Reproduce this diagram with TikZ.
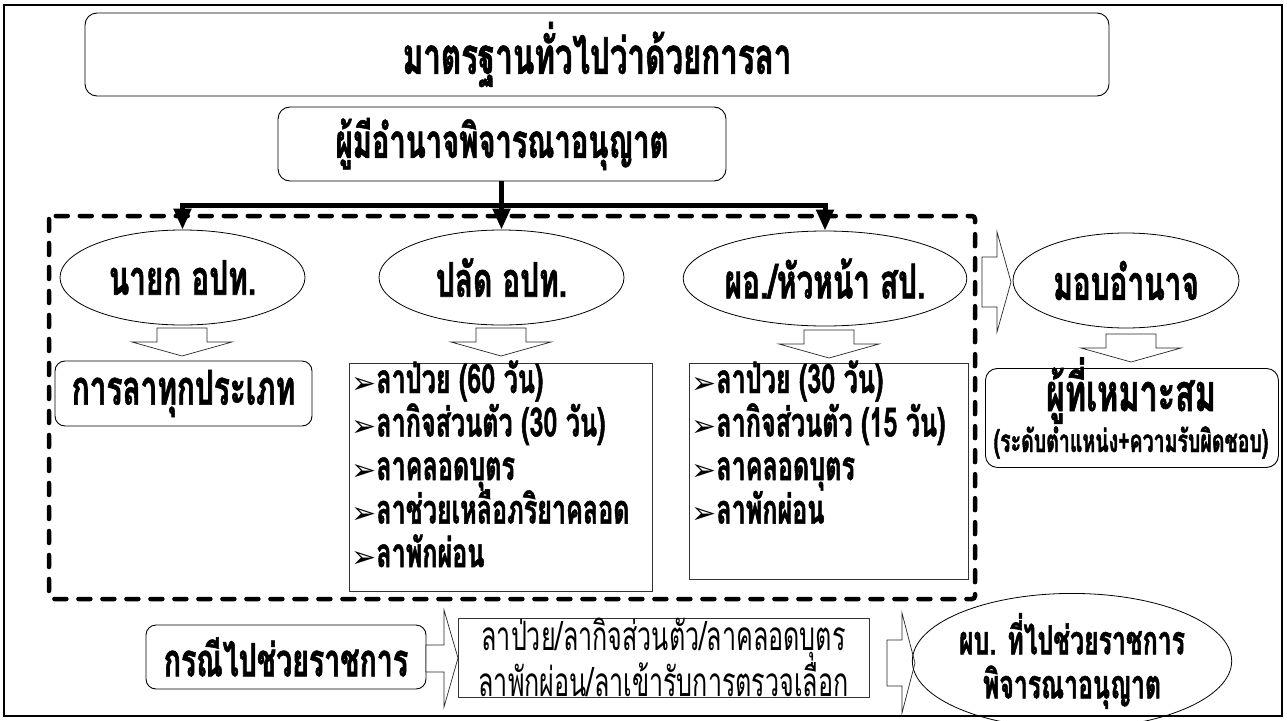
\documentclass[tikz,border=0pt]{standalone}
\usepackage{fontspec}
\newfontfamily\thai[Script=Thai,FakeStretch=0.62,BoldFeatures={FakeBold=1.2}]{Loma}
\newfontfamily\dejavu{DejaVu Sans}
\usetikzlibrary{shapes.geometric,arrows.meta,calc}
\newcommand\thaisize[1]{\thai\fontsize{#1}{#1}\selectfont}
\begin{document}
\begin{tikzpicture}[x=1pt,y=-1pt,
  rbox/.style={draw=black,line width=0.9pt,rounded corners=12pt,inner sep=0pt},
  sqbox/.style={draw=black!80,line width=0.9pt,inner sep=0pt},
  oval/.style={ellipse,draw=black,line width=0.8pt,inner sep=0pt,minimum width=245pt,minimum height=95pt,font=\thaisize{48}\bfseries},
  conn/.style={line width=5pt,-{Triangle[width=17pt,length=21pt]}},
  dashframe/.style={line width=4.5pt,dash pattern=on 12pt off 12pt,line cap=round,rounded corners=3pt},
  blockarr/.style={draw=black!85,line width=0.7pt,fill=white,line join=miter},
  item/.style={inner sep=0pt,anchor=base west,font=\thaisize{40.5}\bfseries},
  downarr/.pic={\draw[blockarr] (-25,0) -- (25,0) -- (25,14) -- (50,14) -- (0,28) -- (-50,14) -- (-25,14) -- cycle;}
]
\useasboundingbox (0,0) rectangle (1287,720);
\draw[line width=2.5pt] (4,5) rectangle (1282,716);

% title and authority
\node[rbox,minimum width=1024pt,minimum height=83pt,font=\thaisize{50.5}\bfseries] (title) at (597,54.5) {มาตรฐานทั่วไปว่าด้วยการลา};
\node[rbox,minimum width=448pt,minimum height=74pt,font=\thaisize{47}\bfseries] (box2) at (502,144) {ผู้มีอำนาจพิจารณาอนุญาต};

% dashed frame
\draw[dashframe] (49,216) rectangle (975,599);

% ellipses
\node[oval] (nayok) at (182.5,277.5) {นายก อปท.};
\node[oval] (palad) at (501.5,277.5) {ปลัด อปท.};
\node[oval] (ohor) at (825,278.5) {ผอ./หัวหน้า สป.};
\node[oval,minimum width=226pt] (mob) at (1126,280.5) {มอบอำนาจ};

% thick connectors
\coordinate (j) at (501.5,205.5);
\draw[line width=5pt] (box2.south -| j) -- (j);
\draw[conn] (j) -| (nayok.north);
\draw[conn] (j) -- (palad.north);
\draw[conn] (j) -| (ohor.north);

% hollow down arrows
\pic at (182,328) {downarr};
\pic at (501,328) {downarr};
\pic at (829,330) {downarr};
\pic at (1131,334) {downarr};

% right arrow into delegation
\draw[blockarr] (982,257) -- (997,257) -- (997,232) -- (1011,282) -- (997,332) -- (997,307) -- (982,307) -- cycle;

% result boxes
\node[rbox,rounded corners=10pt,minimum width=257pt,minimum height=65pt,font=\thaisize{48}\bfseries] (all) at (183.5,393.5) {การลาทุกประเภท};

\node[sqbox,minimum width=303pt,minimum height=228pt,anchor=north west] (plist) at (349,363) {};
\foreach \t [count=\i from 0] in {ลาป่วย (60 วัน),ลากิจส่วนตัว (30 วัน),ลาคลอดบุตร,ลาช่วยเหลือภริยาคลอด,ลาพักผ่อน}
  \node[item] (pi\i) at (351,{393+43.5*\i}) {{\dejavu\fontsize{30}{30}\selectfont ➢}\t};

\node[sqbox,minimum width=279pt,minimum height=216pt,anchor=north west] (olist) at (689,363) {};
\foreach \t [count=\i from 0] in {ลาป่วย (30 วัน),ลากิจส่วนตัว (15 วัน),ลาคลอดบุตร,ลาพักผ่อน}
  \node[item] (oi\i) at (691,{393+43.5*\i}) {{\dejavu\fontsize{30}{30}\selectfont ➢}\t};

\node[rbox,minimum width=293pt,minimum height=99pt,anchor=north west] (fit) at (985,368) {};
\node[inner sep=0pt,anchor=base,font=\thaisize{52}\bfseries] (fitA) at (1131,411) {ผู้ที่เหมาะสม};
\node[inner sep=0pt,anchor=base,font=\thaisize{31.5}\bfseries] (fitB) at (1131,452) {(ระดับตำแหน่ง+ความรับผิดชอบ)};

% bottom row
\node[rbox,rounded corners=10pt,minimum width=280pt,minimum height=64pt,font=\thaisize{46}\bfseries] (secd) at (286,657) {กรณีไปช่วยราชการ};
\draw[blockarr] (426,645) -- (444,645) -- (444,610) -- (458,658) -- (444,707) -- (444,672) -- (426,672) -- cycle;
\node[sqbox,minimum width=411pt,minimum height=79pt,align=center,font=\thai\fontsize{40.5}{32}\selectfont] (blist) at (663.5,657.5) {ลาป่วย/ลากิจส่วนตัว/ลาคลอดบุตร\\ลาพักผ่อน/ลาเข้ารับการตรวจเลือก};
\draw[blockarr] (887,640) -- (902,640) -- (902,613) -- (915,663) -- (902,713) -- (902,686) -- (887,686) -- cycle;
\node[ellipse,draw=black,line width=0.8pt,inner sep=0pt,minimum width=316pt,minimum height=112pt,align=center,font=\thai\fontsize{40}{44}\selectfont\bfseries] (head) at (1072,661) {ผบ. ที่ไปช่วยราชการ\\พิจารณาอนุญาต};
\end{tikzpicture}
\end{document}
